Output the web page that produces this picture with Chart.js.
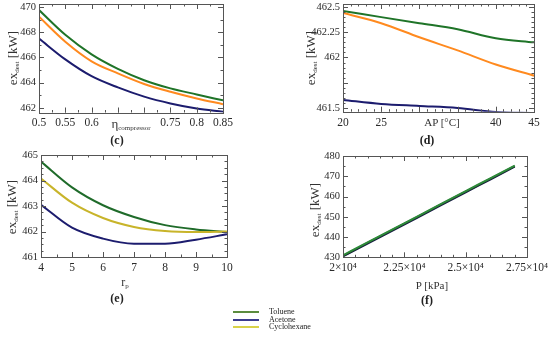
<!DOCTYPE html>
<html>
<head>
<meta charset="utf-8">
<script src="https://cdn.jsdelivr.net/npm/chart.js@4.4.1/dist/chart.umd.min.js"></script>
<style>
    body { margin: 0; background: #fff; }
    #wrap { position: relative; width: 550px; height: 340px; overflow: hidden; font-family: "Liberation Serif", "DejaVu Serif", serif; color: #222; }
    .panel { position: absolute; width: 275px; height: 150px; }
    .txt { position: absolute; transform: translate(-50%, -50%); white-space: nowrap; font-size: 11px; color: #333; line-height: 1; }
    .ytitle { transform: translate(-50%, -50%) rotate(-90deg); font-size: 13px; }
    .sub { font-size: 7px; position: relative; top: 2px; }
    .tag { font-size: 12px; font-weight: bold; color: #222; }
    .leg { position: absolute; left: 233px; width: 26px; height: 2px; }
    .legtxt { position: absolute; left: 269px; font-size: 8px; line-height: 1; transform: translateY(-50%); color: #222; }
</style>
</head>
<body>
<div id="wrap">
    <canvas id="chart-c" class="panel" width="275" height="150" style="left:0;top:0"></canvas>
    <canvas id="chart-d" class="panel" width="275" height="150" style="left:275px;top:0"></canvas>
    <canvas id="chart-e" class="panel" width="275" height="150" style="left:0;top:150px"></canvas>
    <canvas id="chart-f" class="panel" width="275" height="150" style="left:275px;top:150px"></canvas>

    <div class="txt ytitle" style="left:12px;top:58px">ex<span class="sub">dest</span> [kW]</div>
    <div class="txt ytitle" style="left:310px;top:58px">ex<span class="sub">dest</span> [kW]</div>
    <div class="txt ytitle" style="left:11px;top:207px">ex<span class="sub">dest</span> [kW]</div>
    <div class="txt ytitle" style="left:314px;top:210px">ex<span class="sub">dest</span> [kW]</div>

    <div class="txt" style="left:131px;top:123px;font-size:13px">η<span class="sub">compressor</span></div>
    <div class="txt" style="left:442px;top:122px">AP [°C]</div>
    <div class="txt" style="left:125px;top:282px;font-size:12px">r<span class="sub">p</span></div>
    <div class="txt" style="left:432px;top:285px">P [kPa]</div>

    <div class="txt tag" style="left:117px;top:140px">(c)</div>
    <div class="txt tag" style="left:427px;top:140px">(d)</div>
    <div class="txt tag" style="left:117px;top:298px">(e)</div>
    <div class="txt tag" style="left:427px;top:300px">(f)</div>

    <div id="legend"></div>
</div>
<script>
const seriesNames = ['Toluene', 'Acetone', 'Cyclohexane'];
const legendColors = ['#5b8c3e', '#3b3b8f', '#d9d24a'];

// (c) compressor efficiency
const etaValues = [0.5, 0.55, 0.6, 0.65, 0.7, 0.75, 0.8, 0.85];
const etaToluene = [469.76, 467.8, 466.25, 465.1, 464.2, 463.55, 463.07, 462.6];
const etaAcetone = [467.5, 465.85, 464.52, 463.63, 462.9, 462.36, 461.96, 461.7];
const etaCyclohexane = [469.23, 467.25, 465.7, 464.74, 463.9, 463.28, 462.75, 462.3];

// (d) approach temperature
const apValues = [20, 25, 30, 35, 40, 45];
const apToluene = [462.46, 462.4, 462.34, 462.28, 462.19, 462.15];
const apAcetone = [461.58, 461.54, 461.52, 461.5, 461.46, 461.45];
const apCyclohexane = [462.44, 462.34, 462.2, 462.07, 461.93, 461.82];

// (e) pressure ratio
const rpValues = [4, 5, 6, 7, 8, 9, 10];
const rpToluene = [464.74, 463.73, 463.03, 462.57, 462.25, 462.08, 461.98];
const rpAcetone = [463.05, 462.15, 461.72, 461.52, 461.52, 461.68, 461.89];
const rpCyclohexane = [464.08, 463.13, 462.53, 462.18, 462.02, 461.98, 462.0];

// (f) pressure
const pValues = [20000, 21000, 22000, 23000, 24000, 25000, 26000, 27000];
const pToluene = [431.0, 437.4, 443.7, 450.0, 456.4, 462.7, 469.0, 475.3];
const pCyclohexane = [430.7, 437.1, 443.4, 449.7, 456.1, 462.4, 468.7, 475.0];
const pAcetone = [430.4, 436.8, 443.1, 449.4, 455.8, 462.1, 468.4, 474.7];

const xTickFont = { family: 'Liberation Serif', size: 11.5 };
const yTickFont = { family: 'Liberation Serif', size: 10.5 };

// frame with inward major/minor ticks on all four sides
const framePlugin = {
    id: 'frame',
    afterDatasetsDraw(chart, args, opts) {
        const { ctx, chartArea: a, scales } = chart;
        ctx.save();
        ctx.strokeStyle = '#555';
        ctx.lineWidth = 1;
        ctx.strokeRect(Math.round(a.left) + 0.5, Math.round(a.top) + 0.5,
            Math.round(a.right - a.left), Math.round(a.bottom - a.top));

        function marks(scale, step, len) {
            const start = Math.ceil(scale.min / step - 1e-6);
            const end = Math.floor(scale.max / step + 1e-6);
            for (let i = start; i <= end; i++) {
                const p = Math.round(scale.getPixelForValue(i * step)) + 0.5;
                ctx.beginPath();
                if (scale.axis === 'x') {
                    ctx.moveTo(p, a.bottom); ctx.lineTo(p, a.bottom - len);
                    ctx.moveTo(p, a.top); ctx.lineTo(p, a.top + len);
                } else {
                    ctx.moveTo(a.left, p); ctx.lineTo(a.left + len, p);
                    ctx.moveTo(a.right, p); ctx.lineTo(a.right - len, p);
                }
                ctx.stroke();
            }
        }
        marks(scales.x, opts.xMinor, 2.5);
        marks(scales.x, opts.xMajor, 5);
        marks(scales.y, opts.yMinor, 2.5);
        marks(scales.y, opts.yMajor, 5);
        ctx.restore();
    }
};

function toPoints(xs, ys) {
    return xs.map((x, i) => ({ x: x, y: ys[i] }));
}

function makeChart(id, panel) {
    const ctx = document.getElementById(id).getContext('2d');
    const a = panel.area;
    return new Chart(ctx, {
        type: 'line',
        data: {
            datasets: panel.series.map(s => ({
                label: s.label,
                data: toPoints(panel.xs, s.data),
                borderColor: s.color,
                borderWidth: 2,
                pointRadius: 0,
                fill: false,
                cubicInterpolationMode: 'monotone'
            }))
        },
        options: {
            responsive: false,
            animation: false,
            layout: { padding: { left: 0, top: a.top, right: 275 - a.right, bottom: 0 } },
            plugins: {
                legend: { display: false },
                tooltip: { enabled: false },
                frame: { xMajor: panel.xStep, xMinor: panel.xMinor, yMajor: panel.yStep, yMinor: panel.yMinor }
            },
            scales: {
                x: {
                    type: 'linear',
                    min: panel.xMin,
                    max: panel.xMax,
                    grid: { display: false, drawTicks: false },
                    border: { display: false },
                    ticks: {
                        stepSize: panel.xStep,
                        includeBounds: false,
                        autoSkip: false,
                        maxRotation: 0,
                        padding: 4,
                        color: '#2a2a2a',
                        font: xTickFont,
                        callback: panel.xLabel
                    },
                    afterFit: s => { s.height = 150 - a.bottom; s.paddingLeft = 0; s.paddingRight = 0; }
                },
                y: {
                    min: panel.yMin,
                    max: panel.yMax,
                    grid: { display: false, drawTicks: false },
                    border: { display: false },
                    ticks: {
                        stepSize: panel.yStep,
                        includeBounds: false,
                        autoSkip: false,
                        padding: 3,
                        color: '#2a2a2a',
                        font: yTickFont,
                        callback: panel.yLabel
                    },
                    afterFit: s => { s.width = a.left; s.paddingTop = 0; s.paddingBottom = 0; }
                }
            }
        },
        plugins: [framePlugin]
    });
}

const near = (v, t) => Math.abs(v - t) < 1e-6;
const plain = v => String(+v.toFixed(2));

makeChart('chart-c', {
    area: { left: 39, right: 223, top: 4, bottom: 112.5 },
    xs: etaValues, xMin: 0.5, xMax: 0.85, xStep: 0.05, xMinor: 0.025,
    yMin: 461.64, yMax: 470.24, yStep: 2, yMinor: 1,
    xLabel: v => (near(v, 0.65) || near(v, 0.7)) ? '' : plain(v),
    yLabel: plain,
    series: [
        { label: 'Acetone', data: etaAcetone, color: '#1c1c6e' },
        { label: 'Cyclohexane', data: etaCyclohexane, color: '#ff8a1f' },
        { label: 'Toluene', data: etaToluene, color: '#1f7428' }
    ]
});

makeChart('chart-d', {
    area: { left: 68, right: 259, top: 4, bottom: 111.7 },
    xs: apValues, xMin: 20, xMax: 45, xStep: 5, xMinor: 1,
    yMin: 461.463, yMax: 462.53, yStep: 0.25, yMinor: 0.05,
    xLabel: v => (near(v, 30) || near(v, 35)) ? '' : plain(v),
    yLabel: v => near(v, 461.75) ? '' : plain(v),
    series: [
        { label: 'Acetone', data: apAcetone, color: '#1c1c6e' },
        { label: 'Cyclohexane', data: apCyclohexane, color: '#ff8a1f' },
        { label: 'Toluene', data: apToluene, color: '#1f7428' }
    ]
});

makeChart('chart-e', {
    area: { left: 41, right: 227, top: 5, bottom: 107 },
    xs: rpValues, xMin: 4, xMax: 10, xStep: 1, xMinor: 0.5,
    yMin: 461, yMax: 465, yStep: 1, yMinor: 0.25,
    xLabel: plain,
    yLabel: plain,
    series: [
        { label: 'Acetone', data: rpAcetone, color: '#1c1c6e' },
        { label: 'Cyclohexane', data: rpCyclohexane, color: '#c8b42a' },
        { label: 'Toluene', data: rpToluene, color: '#1f6b2a' }
    ]
});

makeChart('chart-f', {
    area: { left: 68, right: 252, top: 6, bottom: 107.3 },
    xs: pValues, xMin: 20000, xMax: 27500, xStep: 2500, xMinor: 500,
    yMin: 430, yMax: 480, yStep: 10, yMinor: 5,
    xLabel: v => plain(v / 10000) + '×10⁴',
    yLabel: plain,
    series: [
        { label: 'Toluene', data: pToluene, color: '#2e8a3a' },
        { label: 'Cyclohexane', data: pCyclohexane, color: '#1a3a2a' },
        { label: 'Acetone', data: pAcetone, color: '#1a1a4a' }
    ]
});

// shared legend under the panels
const legend = document.getElementById('legend');
const legendRows = [312, 320, 327];
seriesNames.forEach((name, i) => {
    const line = document.createElement('div');
    line.className = 'leg';
    line.style.top = (legendRows[i] - 1) + 'px';
    line.style.background = legendColors[i];
    legend.appendChild(line);
    const label = document.createElement('div');
    label.className = 'legtxt';
    label.style.top = legendRows[i] + 'px';
    label.textContent = name;
    legend.appendChild(label);
});
</script>
</body>
</html>
